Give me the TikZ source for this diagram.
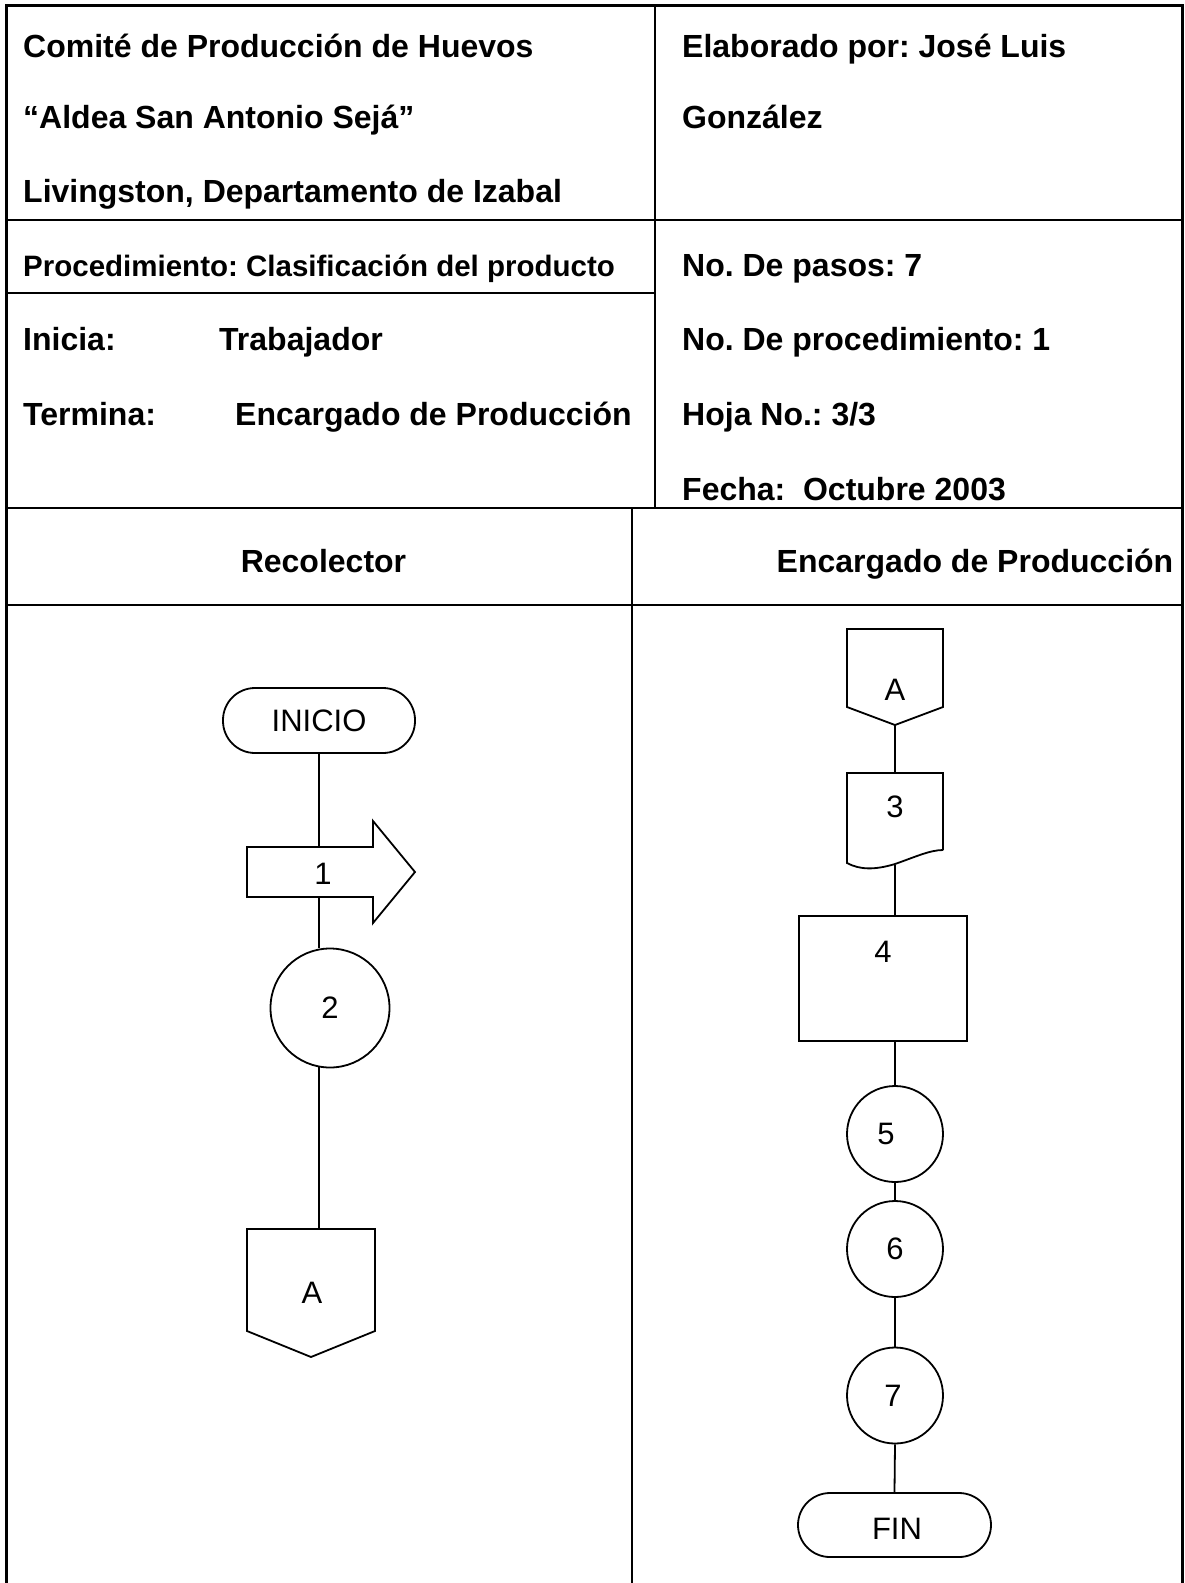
\documentclass[tikz,border=0pt]{standalone}
\usepackage{fontspec}
\setmainfont{Liberation Sans}
\usetikzlibrary{calc}
\frenchspacing
\begin{document}
\begin{tikzpicture}[x=1pt,y=-1pt,
  frame/.style={line width=3pt},
  grid/.style={line width=2.4pt},
  hdr/.style={anchor=base west, inner sep=0pt, font=\bfseries\fontsize{32}{36}\selectfont},
  hdrs/.style={anchor=base west, inner sep=0pt, font=\bfseries\fontsize{29.5}{34}\selectfont},
  lanehdr/.style={anchor=base, inner sep=0pt, font=\bfseries\fontsize{32}{36}\selectfont},
  shp/.style={line width=1.8pt},
  lbl/.style={inner sep=0pt, font=\fontsize{31}{36}\selectfont},
  box/.style={inner sep=0pt, outer sep=0pt},
  term/.style={shp, draw, rounded corners=32pt, inner sep=0pt, font=\fontsize{31}{36}\selectfont},
  circ/.style={shp, draw, circle, inner sep=0pt, font=\fontsize{31}{36}\selectfont},
  conn/.style={line width=1.8pt}]
\useasboundingbox (0,0) rectangle (1184,1583);
% table frame
\draw[frame] (6,1590) -- (6,5) -- (1182,5) -- (1182,1590);
\draw[grid] (655,5) -- (655,508);
\draw[grid] (6,220) -- (1182,220);
\draw[grid] (6,293) -- (655,293);
\draw[grid] (6,508) -- (1182,508);
\draw[grid] (632,508) -- (632,1590);
\draw[grid] (6,605) -- (1182,605);
% header texts
\node[hdr] (t1) at (23,57) {Comité de Producción de Huevos};
\node[hdr] (t2) at (23,128.5) {“Aldea San Antonio Sejá”};
\node[hdr] (t3) at (23,202) {Livingston, Departamento de Izabal};
\node[hdr] (t4) at (682,57) {Elaborado por: José Luis};
\node[hdr] (t5) at (682,128.5) {González};
\node[hdrs] (t6) at (23,276) {Procedimiento: Clasificación del producto};
\node[hdr] (t7) at (682,276) {No. De pasos: 7};
\node[hdr] (t8) at (23,350.5) {Inicia:};
\node[hdr] (t9) at (219,350.5) {Trabajador};
\node[hdr] (t10) at (682,350.5) {No. De procedimiento: 1};
\node[hdr] (t11) at (23,425) {Termina:};
\node[hdr] (t12) at (235,425) {Encargado de Producción};
\node[hdr] (t13) at (682,425) {Hoja No.: 3/3};
\node[hdr] (t14) at (682,500) {Fecha:\ \ Octubre 2003};
\node[lanehdr] (l1) at (323.5,572.5) {Recolector};
\node[lanehdr] (l2) at (975,572.5) {Encargado de Producción};
% left lane
\node[term, minimum width=192, minimum height=65] (inicio) at (319,720.5) {INICIO};
\node[box, minimum width=126, minimum height=50] (s1) at (310,872) {};
\draw[shp] (s1.north west) -- (s1.north east) -- ++(0,-26) -- ($(s1.east)+(42,0)$)
  -- ($(s1.south east)+(0,26)$) -- (s1.south east) -- (s1.south west) -- cycle;
\node[lbl] (s1t) at (323,874) {1};
\node[circ, minimum size=119] (c2) at (330,1008) {2};
\node[box, minimum width=128, minimum height=102] (a1) at (311,1280) {};
\draw[shp] (a1.north west) -- (a1.north east) -- (a1.south east) -- ($(a1.south)+(0,26)$)
  -- (a1.south west) -- cycle;
\node[lbl] (a1t) at (312,1293) {A};
\draw[conn] (inicio.south) -- (s1.north -| inicio.south);
\draw[conn] (s1.south -| inicio.south) -- (c2.north -| inicio.south);
\draw[conn] ($(c2.south -| inicio.south)+(0,-1)$) -- (a1.north -| inicio.south);
% right lane
\node[box, minimum width=96, minimum height=78] (a2) at (895,668) {};
\draw[shp] (a2.north west) -- (a2.north east) -- (a2.south east) -- ($(a2.south)+(0,18)$)
  -- (a2.south west) -- cycle;
\node[lbl] (a2t) at (895,690) {A};
\node[box, minimum width=96, minimum height=77] (d3) at (895,811.5) {};
\draw[shp] (d3.south east) -- (d3.north east) -- (d3.north west) -- ($(d3.south west)+(0,13)$)
  .. controls ($(d3.south west)+(13,20)$) and ($(d3.south west)+(28,20)$) .. ($(d3.south)+(0,14)$)
  .. controls ($(d3.south)+(20,7)$) and ($(d3.south east)+(-13,0)$) .. (d3.south east);
\node[lbl] (d3t) at (895,807) {3};
\node[shp, draw, box, minimum width=168, minimum height=125] (p4) at (883,978.5) {};
\node[lbl] (p4t) at (883,952) {4};
\node[circ, minimum size=96] (c5) at (895,1134) {};
\node[lbl] (c5t) at (886,1134) {5};
\node[circ, minimum size=96] (c6) at (895,1249) {6};
\node[circ, minimum size=96] (c7) at (895,1395.5) {};
\node[lbl] (c7t) at (893,1396) {7};
\node[term, minimum width=193, minimum height=64] (fin) at (894.5,1525) {};
\node[lbl] (fint) at (897,1529) {FIN};
\draw[conn] ($(a2.south)+(0,18)$) -- (d3.north);
\draw[conn] ($(d3.south)+(0,15)$) -- (p4.north -| d3.south);
\draw[conn] (p4.south -| c5.north) -- (c5.north);
\draw[conn] (c5.south) -- (c6.north);
\draw[conn] (c6.south) -- (c7.north);
\draw[conn] (c7.south) -- (fin.north);
\end{tikzpicture}
\end{document}
